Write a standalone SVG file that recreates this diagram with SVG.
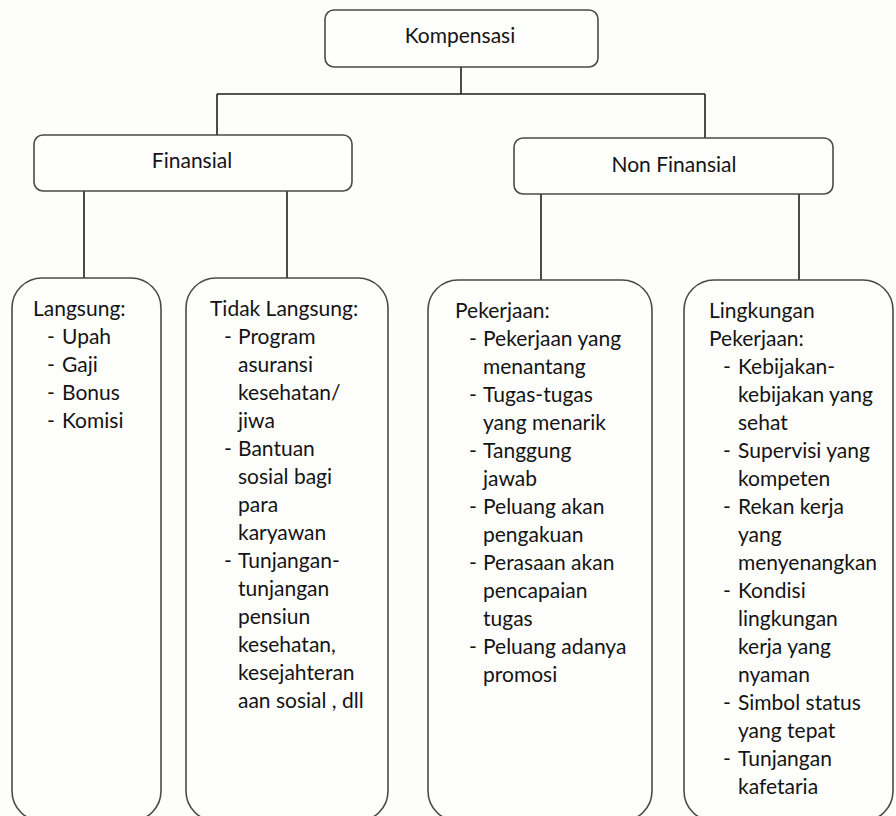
<svg xmlns="http://www.w3.org/2000/svg" width="896" height="816" viewBox="0 0 896 816">
<style>
.bg{fill:#fdfdf9}
.box{fill:#fefefc;stroke:#4a4a4a;stroke-width:1.6}
.con{fill:none;stroke:#1e1e1e;stroke-width:1.6}
text{font-family:Lato,"Open Sans","Liberation Sans",sans-serif;font-size:21px;fill:#141414}
.c{text-anchor:middle}
</style>
<rect class="bg" x="0" y="0" width="896" height="816"/>
<g id="connectors">
<path class="con" d="M461 67V94M217 94H705M217 94V135M705 94V138M84 191V278M287 191V278M541 194V280M799 194V280"/>
</g>
<g id="kompensasi">
<rect class="box" x="325" y="10" width="273" height="57" rx="9"/>
<text class="c" x="460" y="43">Kompensasi</text>
</g>
<g id="finansial">
<rect class="box" x="34" y="135" width="318" height="56" rx="9"/>
<text class="c" x="192" y="168">Finansial</text>
</g>
<g id="non-finansial">
<rect class="box" x="514" y="138" width="319" height="56" rx="9"/>
<text class="c" x="674" y="172">Non Finansial</text>
</g>
<g id="langsung">
<rect class="box" x="12" y="278" width="149" height="543" rx="30"/>
<text x="33" y="316">Langsung:</text>
<text x="47" y="344">-</text><text x="62" y="344">Upah</text>
<text x="47" y="372">-</text><text x="62" y="372">Gaji</text>
<text x="47" y="400">-</text><text x="62" y="400">Bonus</text>
<text x="47" y="428">-</text><text x="62" y="428">Komisi</text>
</g>
<g id="tidak-langsung">
<rect class="box" x="186" y="278" width="202" height="543" rx="30"/>
<text x="210" y="316">Tidak Langsung:</text>
<text x="224" y="344">-</text><text x="238" y="344">Program</text>
<text x="238" y="372">asuransi</text>
<text x="238" y="400">kesehatan/</text>
<text x="238" y="428">jiwa</text>
<text x="224" y="456">-</text><text x="238" y="456">Bantuan</text>
<text x="238" y="484">sosial bagi</text>
<text x="238" y="512">para</text>
<text x="238" y="540">karyawan</text>
<text x="224" y="568">-</text><text x="238" y="568">Tunjangan-</text>
<text x="238" y="596">tunjangan</text>
<text x="238" y="624">pensiun</text>
<text x="238" y="652">kesehatan,</text>
<text x="238" y="680">kesejahteran</text>
<text x="238" y="708">aan sosial , dll</text>
</g>
<g id="pekerjaan">
<rect class="box" x="428" y="280" width="224" height="541" rx="30"/>
<text x="455" y="318">Pekerjaan:</text>
<text x="469" y="346">-</text><text x="483" y="346">Pekerjaan yang</text>
<text x="483" y="374">menantang</text>
<text x="469" y="402">-</text><text x="483" y="402">Tugas-tugas</text>
<text x="483" y="430">yang menarik</text>
<text x="469" y="458">-</text><text x="483" y="458">Tanggung</text>
<text x="483" y="486">jawab</text>
<text x="469" y="514">-</text><text x="483" y="514">Peluang akan</text>
<text x="483" y="542">pengakuan</text>
<text x="469" y="570">-</text><text x="483" y="570">Perasaan akan</text>
<text x="483" y="598">pencapaian</text>
<text x="483" y="626">tugas</text>
<text x="469" y="654">-</text><text x="483" y="654">Peluang adanya</text>
<text x="483" y="682">promosi</text>
</g>
<g id="lingkungan-pekerjaan">
<rect class="box" x="684" y="280" width="209" height="541" rx="30"/>
<text x="709" y="318">Lingkungan</text>
<text x="709" y="346">Pekerjaan:</text>
<text x="723" y="374">-</text><text x="738" y="374">Kebijakan-</text>
<text x="738" y="402">kebijakan yang</text>
<text x="738" y="430">sehat</text>
<text x="723" y="458">-</text><text x="738" y="458">Supervisi yang</text>
<text x="738" y="486">kompeten</text>
<text x="723" y="514">-</text><text x="738" y="514">Rekan kerja</text>
<text x="738" y="542">yang</text>
<text x="738" y="570">menyenangkan</text>
<text x="723" y="598">-</text><text x="738" y="598">Kondisi</text>
<text x="738" y="626">lingkungan</text>
<text x="738" y="654">kerja yang</text>
<text x="738" y="682">nyaman</text>
<text x="723" y="710">-</text><text x="738" y="710">Simbol status</text>
<text x="738" y="738">yang tepat</text>
<text x="723" y="766">-</text><text x="738" y="766">Tunjangan</text>
<text x="738" y="794">kafetaria</text>
</g>
</svg>
